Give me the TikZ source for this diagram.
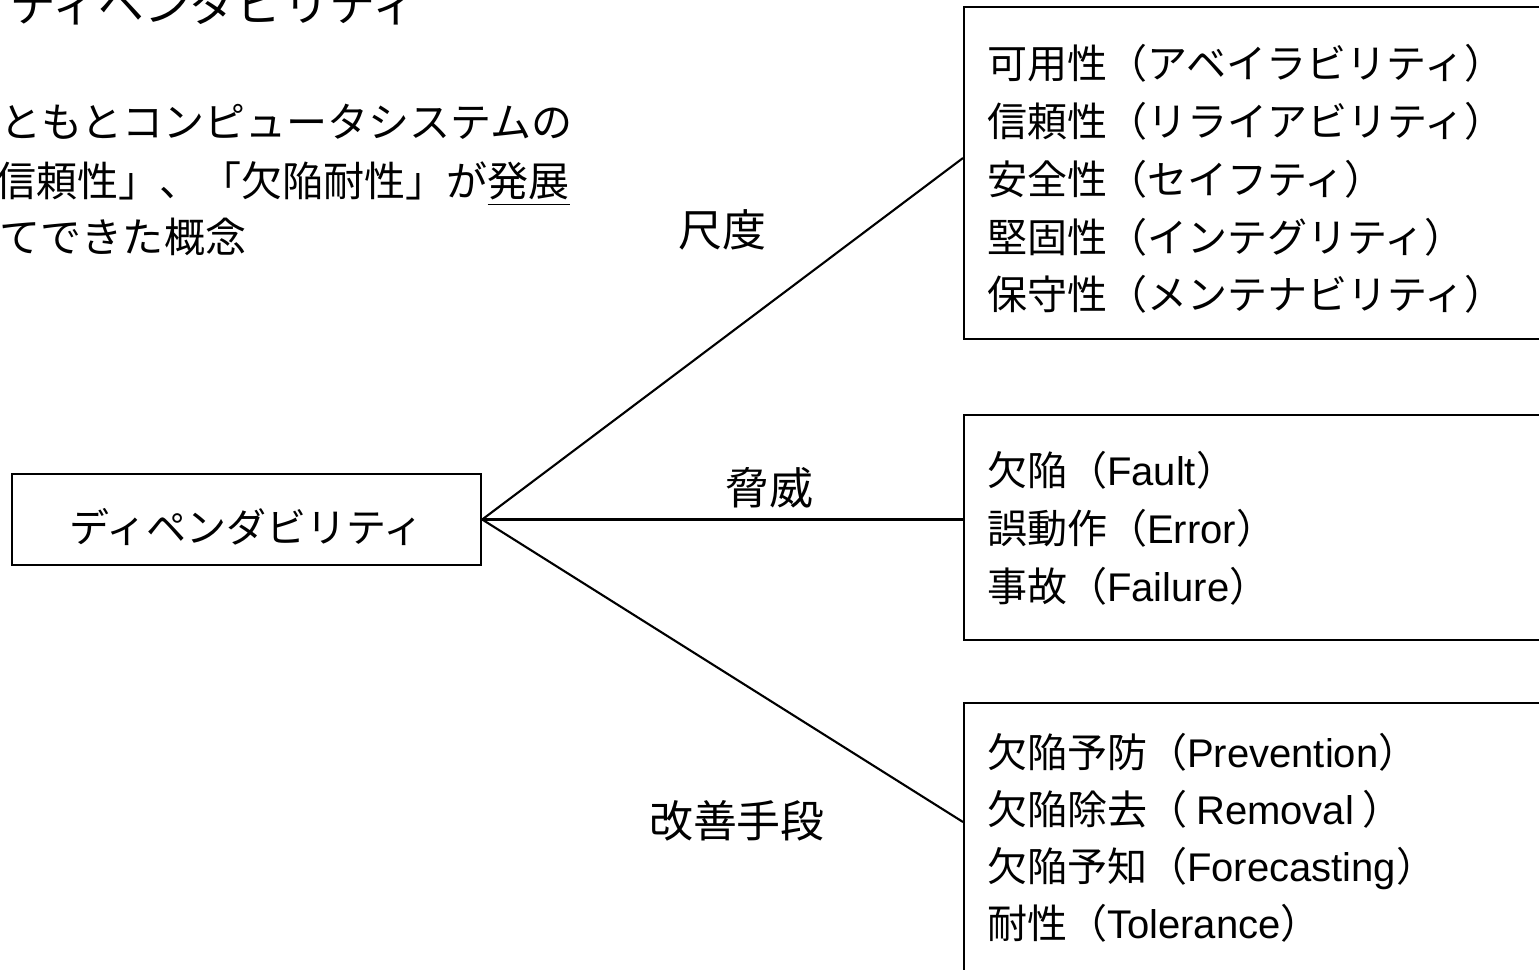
\documentclass[tikz,border=0pt]{standalone}
\usepackage{fontspec}
\setmainfont{Noto Sans CJK JP}
\newfontfamily\lat{Liberation Sans}
\usetikzlibrary{positioning, calc}

\begin{document}
\begin{tikzpicture}[x=0.01cm, y=-0.01cm, line width=0.6pt,
    box/.style={draw, inner sep=0pt, anchor=north west},
    row/.style={anchor=base west, inner sep=0pt, font=\fontsize{11.38pt}{14pt}\selectfont},
    lbl/.style={anchor=base west, inner sep=0pt, font=\fontsize{12.5pt}{15pt}\selectfont}]
  \useasboundingbox (0,0) rectangle (1539,970);
  \clip (0,0) rectangle (1539,970);

  \node[anchor=base west, inner sep=0pt, font=\fontsize{13.09pt}{16pt}\selectfont] (title) at (9,22) {ディペンダビリティ};

  \node[row, font=\fontsize{11.67pt}{14pt}\selectfont] (bg1) at (-41,138) {もともとコンピュータシステムの};
  \node[row, font=\fontsize{11.67pt}{14pt}\selectfont] (bg2) at (-47,196) {「信頼性」、「欠陥耐性」が\underline{発展}};
  \node[row, font=\fontsize{11.67pt}{14pt}\selectfont] (bg3) at (-41,253) {してできた概念};

  \node[box, anchor=center, minimum width=4.69cm, minimum height=0.91cm, text height=1.5em, text depth=0.19em, font=\fontsize{11.38pt}{14pt}\selectfont] (dep) at (246.5,519.5) {ディペンダビリティ};

  \node[box, minimum width=6cm, minimum height=3.32cm] (mes) at (963,6) {};
  \node[box, minimum width=6cm, minimum height=2.25cm] (thr) at (963,414) {};
  \node[box, minimum width=6cm, minimum height=3cm] (imp) at (963,702) {};

  \foreach \t [count=\i from 0] in {可用性（アベイラビリティ）, 信頼性（リライアビリティ）, 安全性（セイフティ）, 堅固性（インテグリティ）, 保守性（メンテナビリティ）}
    \node[row] (mes\i) at (986,{79+57.75*\i}) {\t};
  \foreach \t [count=\i from 0] in {欠陥（{\lat Fault}）, 誤動作（{\lat Error}）, 事故（{\lat Failure}）}
    \node[row] (thr\i) at (986,{485+58*\i}) {\t};
  \foreach \t [count=\i from 0] in {欠陥予防（{\lat Prevention}）, 欠陥除去（ {\lat Removal} ）, 欠陥予知（{\lat Forecasting}）, 耐性（{\lat Tolerance}）}
    \node[row] (imp\i) at (986,{767+57*\i}) {\t};

  \coordinate (mesin) at (963,158);
  \coordinate (impin) at (963,822);
  \draw (dep.east) -- (mesin);
  \draw (dep.east) -- (dep.east -| thr.west);
  \draw (dep.east) -- (impin);

  \node[lbl] (mesl) at (677,247) {尺度};
  \node[lbl] (thrl) at (724,504) {脅威};
  \node[lbl] (impl) at (648,837) {改善手段};
\end{tikzpicture}
\end{document}
